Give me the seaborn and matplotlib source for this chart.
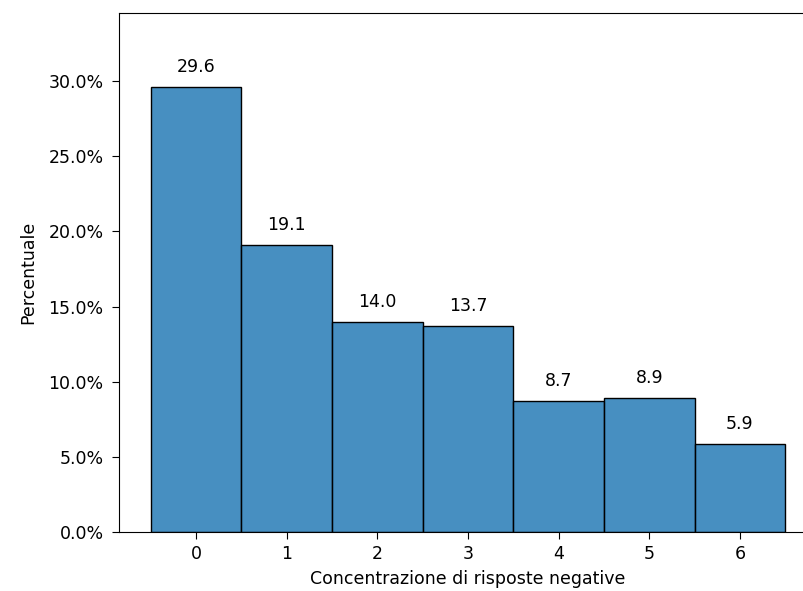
import matplotlib
matplotlib.use("Agg")
import matplotlib.pyplot as plt
import seaborn as sns
from matplotlib.ticker import PercentFormatter

# concentrazione di risposte negative (0-6) e percentuale di rispondenti
categorie = [0, 1, 2, 3, 4, 5, 6]
percentuali = [29.6, 19.1, 14.0, 13.7, 8.7, 8.9, 5.9]


def main():
    plt.rcParams.update({'font.size': 12.5})

    fig = plt.figure(figsize=(8.04, 5.91), dpi=100)
    ax = fig.add_axes([0.148, 0.099, 0.868, 0.879])

    sns.histplot(x=categorie, weights=percentuali, discrete=True, ax=ax,
                 edgecolor='black', linewidth=1.0, alpha=0.82)

    for p in ax.patches:
        h = p.get_height()
        ax.annotate(f'{h:.1f}', (p.get_x() + p.get_width() / 2, h),
                    ha='center', va='bottom', xytext=(0, 8),
                    textcoords='offset points')

    ax.set_ylim(0, 34.5)
    ax.yaxis.set_major_formatter(PercentFormatter(decimals=1))
    ax.set_xticks(categorie)
    ax.tick_params(length=5, pad=4)
    ax.tick_params(axis='y', pad=6)
    ax.set_xlabel('Concentrazione di risposte negative', labelpad=5)
    ax.set_ylabel('Percentuale', labelpad=8)

    fig.savefig('out.png', dpi=100)
    plt.close(fig)


if __name__ == "__main__":
    main()
